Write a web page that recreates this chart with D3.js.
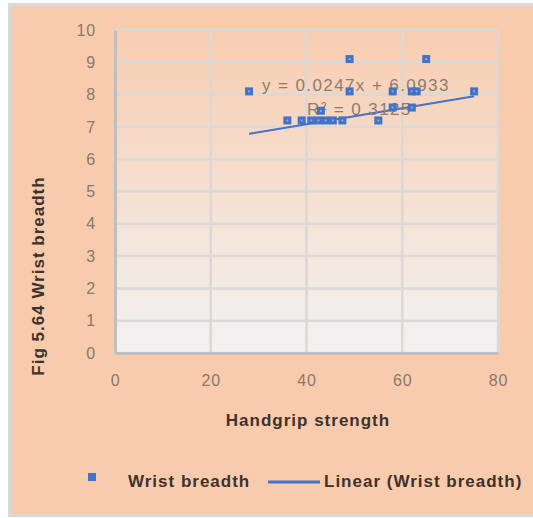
<!DOCTYPE html>
<html><head><meta charset="utf-8">
<script src="https://cdn.jsdelivr.net/npm/d3@7"></script>
<style>
html,body{margin:0;padding:0;background:#ffffff;}
svg{display:block;font-family:"Liberation Sans",Arial,sans-serif;}
</style></head>
<body>
<svg id="chart" width="533" height="518"></svg>
<script>
// ---- data ----
const handgrip = [28, 49, 65, 49, 58, 62, 63, 75, 43, 58, 62, 36, 39, 41, 42.5, 44, 45.5, 47.5, 55];
const wrist    = [8.1, 9.1, 9.1, 8.1, 8.1, 8.1, 8.1, 8.1, 7.5, 7.6, 7.6, 7.2, 7.2, 7.2, 7.2, 7.2, 7.2, 7.2, 7.2];
const xTicks = [0, 20, 40, 60, 80];
const yTicks = [0, 1, 2, 3, 4, 5, 6, 7, 8, 9, 10];
const trendSlope = 0.0247;
const trendIntercept = 6.0933;
const eqText = "y = 0.0247x + 6.0933";
const r2Text = "R² = 0.3125";
const xTitle = "Handgrip strength";
const yTitle = "Fig 5.64 Wrist breadth";
const seriesName = "Wrist breadth";
const trendName = "Linear (Wrist breadth)";

const svg = d3.select("#chart");
const M = {left:115, right:498, top:30, bottom:353};
const x = d3.scaleLinear().domain([0,80]).range([M.left, M.right]);
const y = d3.scaleLinear().domain([0,10]).range([M.bottom, M.top]);

const defs = svg.append("defs");
const grad = defs.append("linearGradient").attr("id","pg").attr("x1",0).attr("y1",0).attr("x2",0).attr("y2",1);
grad.append("stop").attr("offset","0%").attr("stop-color","#f8cdb0");
grad.append("stop").attr("offset","100%").attr("stop-color","#f2f2f2");

// chart area
svg.append("rect").attr("x",9.5).attr("y",4.5).attr("width",530).attr("height",511)
  .attr("fill","#f8cbad").attr("stroke","#d9d9d9").attr("stroke-width",3);

// plot area
svg.append("rect").attr("x",M.left).attr("y",M.top).attr("width",M.right-M.left).attr("height",M.bottom-M.top)
  .attr("fill","url(#pg)");

const tickColor = "#8a786d";
// gridlines
svg.append("g").selectAll("line").data(yTicks).join("line")
  .attr("x1",M.left).attr("x2",M.right).attr("y1",d=>y(d)).attr("y2",d=>y(d))
  .attr("stroke","#d9d9d9").attr("stroke-width",2.5);
svg.append("g").selectAll("line").data(xTicks).join("line")
  .attr("y1",M.top).attr("y2",M.bottom).attr("x1",d=>x(d)).attr("x2",d=>x(d))
  .attr("stroke","#d9d9d9").attr("stroke-width",2.5);

// axes
const xAxis = d3.axisBottom(x).tickValues(xTicks).tickSize(0).tickPadding(22);
const gx = svg.append("g").attr("transform",`translate(0,${M.bottom})`).call(xAxis);
gx.select(".domain").attr("stroke","#bfbfbf").attr("stroke-width",3);
gx.selectAll("text").attr("fill",tickColor).attr("font-size",16).attr("letter-spacing",0.8)
  .attr("font-family","Liberation Sans, Arial, sans-serif");

const yAxis = d3.axisLeft(y).tickValues(yTicks).tickSize(0).tickPadding(19);
const gy = svg.append("g").attr("transform",`translate(${M.left},0)`).call(yAxis);
gy.select(".domain").attr("stroke","#bfbfbf").attr("stroke-width",3);
gy.selectAll("text").attr("fill",tickColor).attr("font-size",16).attr("letter-spacing",0.8)
  .attr("font-family","Liberation Sans, Arial, sans-serif");

// trendline
const xmin = d3.min(handgrip), xmax = d3.max(handgrip);
const line = d3.line().x(d=>x(d)).y(d=>y(trendSlope*d+trendIntercept));
svg.append("path").datum([xmin,xmax]).attr("d",line)
  .attr("fill","none").attr("stroke","#4472c4").attr("stroke-width",2);

// equation labels
svg.append("text").attr("x",262).attr("y",91).attr("fill","#8f7c70").attr("font-size",17)
  .attr("letter-spacing",1.4).text(eqText);
svg.append("text").attr("x",307).attr("y",115).attr("fill","#8f7c70").attr("font-size",17)
  .attr("letter-spacing",1.4).text(r2Text);

// markers
const pts = handgrip.map((v,i)=>({x:v,y:wrist[i]}));
const mg = svg.append("g").selectAll("g").data(pts).join("g")
  .attr("transform",d=>`translate(${x(d.x)},${y(d.y)})`);
mg.append("rect").attr("x",-4).attr("y",-4).attr("width",8).attr("height",8).attr("fill","#4472c4");
mg.append("rect").attr("x",-1).attr("y",-1).attr("width",2).attr("height",2).attr("fill","#8aa6dc");

// axis titles
const titleColor = "#3d322c";
svg.append("text").attr("x",308).attr("y",426).attr("text-anchor","middle")
  .attr("font-weight","bold").attr("font-size",17).attr("letter-spacing",1).attr("fill",titleColor).text(xTitle);
svg.append("text").attr("transform","translate(44,276) rotate(-90)").attr("text-anchor","middle")
  .attr("font-weight","bold").attr("font-size",17).attr("letter-spacing",1).attr("fill",titleColor).text(yTitle);

// legend
const lg = svg.append("g");
lg.append("rect").attr("x",88).attr("y",473).attr("width",8).attr("height",8).attr("fill","#4472c4");
lg.append("text").attr("x",128).attr("y",487).attr("font-weight","bold").attr("font-size",17)
  .attr("letter-spacing",1).attr("fill",titleColor).text(seriesName);
lg.append("line").attr("x1",268).attr("x2",320).attr("y1",482).attr("y2",482)
  .attr("stroke","#4472c4").attr("stroke-width",3);
lg.append("text").attr("x",324).attr("y",487).attr("font-weight","bold").attr("font-size",17)
  .attr("letter-spacing",1).attr("fill",titleColor).text(trendName);
</script>
</body></html>
